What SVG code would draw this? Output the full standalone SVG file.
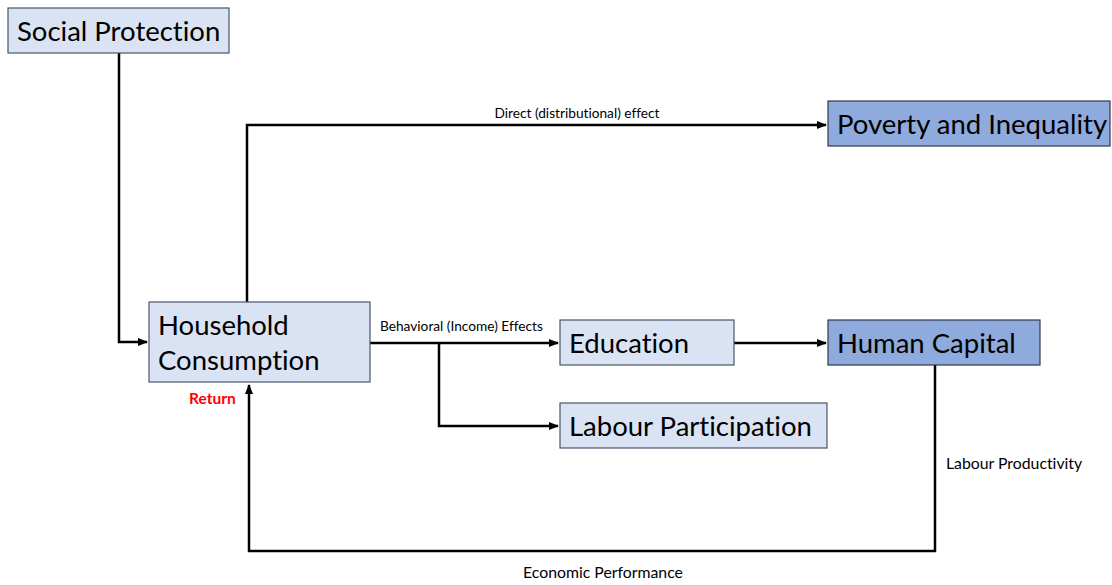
<svg xmlns="http://www.w3.org/2000/svg" width="1112" height="585" viewBox="0 0 1112 585">
<defs>
<style>
text{font-family:Lato,"Open Sans",sans-serif;font-variant-ligatures:none;fill:#000}
.box{fill:#dae3f3;stroke:#4a5568;stroke-width:1.2}
.dark{fill:#8faadc;stroke:#2f3a4a;stroke-width:1.2}
.big{font-size:27.5px}
.lbl{font-size:13.7px}
.lbl2{font-size:15.8px}
.red{font-size:15.5px;font-weight:bold;fill:#ff0000}
.ln{fill:none;stroke:#000;stroke-width:2.5}
</style>
<marker id="ah" viewBox="0 0 10 10" refX="9" refY="5" markerWidth="4" markerHeight="4" orient="auto" markerUnits="strokeWidth">
<path d="M0,1 L10,5 L0,9 z" fill="#000"/>
</marker>
</defs>
<rect width="1112" height="585" fill="#fff"/>
<g id="connectors">
<path class="ln" d="M119,53 V342 H147" marker-end="url(#ah)"/>
<path class="ln" d="M247,302 V125 H826" marker-end="url(#ah)"/>
<path class="ln" d="M370,343 H558" marker-end="url(#ah)"/>
<path class="ln" d="M439,343 V426 H558" marker-end="url(#ah)"/>
<path class="ln" d="M734,343 H826" marker-end="url(#ah)"/>
<path class="ln" d="M935,365 V551 H249 V385" marker-end="url(#ah)"/>
<text class="lbl" x="577" y="118" text-anchor="middle">Direct (distributional) effect</text>
<text class="lbl" x="380" y="331">Behavioral (Income) Effects</text>
<text class="lbl2" x="946" y="469">Labour Productivity</text>
<text class="lbl2" x="603" y="578" text-anchor="middle">Economic Performance</text>
</g>
<g id="social-protection">
<rect class="box" x="8" y="8" width="221" height="45"/>
<text class="big" x="17" y="41">Social Protection</text>
</g>
<g id="household-consumption">
<rect class="box" x="149" y="302" width="221" height="80"/>
<text class="big" x="158" y="335">Household</text>
<text class="big" x="158" y="370">Consumption</text>
<text class="red" x="189" y="404">Return</text>
</g>
<g id="poverty-inequality">
<rect class="dark" x="828" y="101" width="282" height="45"/>
<text class="big" x="837" y="134">Poverty and Inequality</text>
</g>
<g id="education">
<rect class="box" x="560" y="320" width="174" height="45"/>
<text class="big" x="569" y="353">Education</text>
</g>
<g id="human-capital">
<rect class="dark" x="828" y="320" width="212" height="45"/>
<text class="big" x="837" y="353">Human Capital</text>
</g>
<g id="labour-participation">
<rect class="box" x="560" y="403" width="267" height="45"/>
<text class="big" x="569" y="436">Labour Participation</text>
</g>
</svg>
